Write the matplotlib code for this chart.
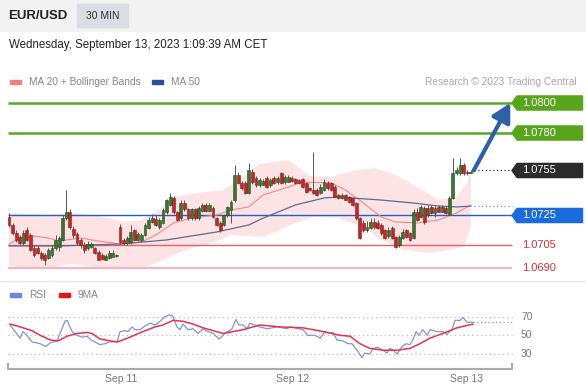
import matplotlib
matplotlib.use('Agg')
import matplotlib.pyplot as plt
from matplotlib.patches import Rectangle, Polygon
from matplotlib.lines import Line2D
import numpy as np

plt.rcParams['font.family'] = ['Liberation Sans', 'DejaVu Sans']

# ---- 30 min candles, EUR/USD ----
opens = [
    1.0724, 1.07187, 1.07133, 1.07107, 1.07067, 1.07153, 1.0712, 1.07033, 1.07033, 1.0700,
    1.06987, 1.06967, 1.06987, 1.07033, 1.0704, 1.07087, 1.07233, 1.07273, 1.0716, 1.07127,
    1.07087, 1.07053, 1.07033, 1.0704, 1.07033, 1.07007, 1.06987, 1.06953, 1.06967, 1.06973,
    1.0698, 1.07173, 1.07087, 1.07067, 1.07073, 1.07153, 1.07087, 1.07087, 1.0712, 1.07167,
    1.07207, 1.07227, 1.07173, 1.0720, 1.07273, 1.0732, 1.07367, 1.07273, 1.07233, 1.07333,
    1.0729, 1.07233, 1.0729, 1.0723, 1.0728, 1.0732, 1.0728, 1.0730, 1.07233, 1.0720,
    1.07187, 1.07253, 1.07287, 1.07353, 1.0752, 1.07467, 1.07467, 1.0740, 1.0754, 1.0750,
    1.07453, 1.07453, 1.0750, 1.07453, 1.0750, 1.07473, 1.07533, 1.07473, 1.07473, 1.0750,
    1.07493, 1.07487, 1.07493, 1.07467, 1.07433, 1.0742, 1.0742, 1.0740, 1.0742, 1.07467,
    1.07467, 1.0744, 1.07387, 1.07367, 1.07387, 1.07373, 1.07367, 1.07333, 1.07233, 1.0720,
    1.07153, 1.07167, 1.07207, 1.0720, 1.07187, 1.07153, 1.07113, 1.07167, 1.07107, 1.07053,
    1.0710, 1.07153, 1.07133, 1.0710, 1.07273, 1.0724, 1.0730, 1.07253, 1.07307, 1.07267,
    1.07307, 1.07273, 1.0730, 1.07253, 1.07367, 1.07533, 1.07533, 1.07587, 1.0754, 1.07533,
]
highs = [
    1.07267, 1.0720, 1.0715, 1.0712, 1.0715, 1.0717, 1.0713, 1.0705, 1.0705, 1.0701,
    1.0700, 1.0703, 1.0705, 1.0712, 1.0711, 1.0725, 1.0742, 1.0729, 1.0718, 1.0714,
    1.0710, 1.0707, 1.0708, 1.0707, 1.0704, 1.0702, 1.0700, 1.0699, 1.0702, 1.0702,
    1.0699, 1.0719, 1.0710, 1.0711, 1.07187, 1.0716, 1.0714, 1.0713, 1.0720, 1.0724,
    1.0726, 1.0725, 1.0723, 1.0730, 1.0736, 1.0740, 1.0738, 1.0728, 1.0735, 1.0735,
    1.0730, 1.0730, 1.0730, 1.0731, 1.0733, 1.0733, 1.0733, 1.0731, 1.0724, 1.0721,
    1.0726, 1.0731, 1.0735, 1.07587, 1.0754, 1.0748, 1.0748, 1.0760, 1.0756, 1.0751,
    1.0750, 1.0749, 1.0751, 1.0750, 1.0751, 1.0751, 1.0754, 1.0752, 1.0752, 1.0751,
    1.0750, 1.0749, 1.0750, 1.0747, 1.0744, 1.07673, 1.0743, 1.0746, 1.0749, 1.0748,
    1.0747, 1.0745, 1.0739, 1.0740, 1.0739, 1.0738, 1.0737, 1.0734, 1.0724, 1.0722,
    1.0721, 1.0723, 1.0723, 1.0722, 1.0720, 1.0716, 1.0717, 1.0718, 1.0711, 1.0712,
    1.0716, 1.0716, 1.0714, 1.0729, 1.0730, 1.0732, 1.0731, 1.0732, 1.0732, 1.0731,
    1.0732, 1.0732, 1.0731, 1.0738, 1.07633, 1.0757, 1.07633, 1.0760, 1.0755, 1.0755,
]
lows = [
    1.07173, 1.0712, 1.0707, 1.0705, 1.0705, 1.0708, 1.0701, 1.0697, 1.0699, 1.0695,
    1.0692, 1.0696, 1.0697, 1.0702, 1.0701, 1.0708, 1.0722, 1.0716, 1.0710, 1.0705,
    1.0703, 1.0700, 1.0702, 1.0703, 1.0699, 1.0695, 1.0695, 1.0695, 1.0696, 1.0697,
    1.0697, 1.0706, 1.0705, 1.0705, 1.0706, 1.0708, 1.0708, 1.0707, 1.0711, 1.0716,
    1.0720, 1.0718, 1.0716, 1.0719, 1.0726, 1.0731, 1.0726, 1.0721, 1.0722, 1.0728,
    1.0722, 1.0722, 1.0722, 1.0722, 1.0727, 1.0727, 1.0727, 1.0723, 1.0718, 1.0714,
    1.0718, 1.0724, 1.0720, 1.0734, 1.0746, 1.0742, 1.0739, 1.0739, 1.0746, 1.0744,
    1.0744, 1.0745, 1.0743, 1.0744, 1.0746, 1.0746, 1.0746, 1.0746, 1.0747, 1.0747,
    1.0746, 1.0746, 1.0743, 1.0740, 1.0741, 1.0739, 1.0738, 1.0739, 1.0741, 1.0742,
    1.0741, 1.0737, 1.0736, 1.0736, 1.0735, 1.0733, 1.0731, 1.0722, 1.0709, 1.0714,
    1.0714, 1.0716, 1.0716, 1.0716, 1.0712, 1.0709, 1.0710, 1.0709, 1.0703, 1.0704,
    1.0709, 1.0710, 1.0708, 1.0709, 1.0721, 1.0723, 1.0719, 1.0724, 1.0726, 1.0724,
    1.0727, 1.0727, 1.0726, 1.0725, 1.0736, 1.0752, 1.0752, 1.0752, 1.0752, 1.0753,
]
closes = [
    1.07187, 1.07133, 1.07087, 1.07067, 1.07133, 1.07087, 1.0702, 1.06987, 1.0700, 1.06967,
    1.06953, 1.0702, 1.07033, 1.07087, 1.0710, 1.07233, 1.07273, 1.07173, 1.0712, 1.07067,
    1.07053, 1.0702, 1.0706, 1.0706, 1.0700, 1.06953, 1.0696, 1.0698, 1.0700, 1.0700,
    1.06987, 1.07073, 1.07067, 1.0710, 1.0714, 1.07087, 1.07127, 1.0712, 1.07187, 1.0722,
    1.07233, 1.07187, 1.0722, 1.07287, 1.07353, 1.07373, 1.07273, 1.0722, 1.07333, 1.0729,
    1.07233, 1.0729, 1.0723, 1.0730, 1.0732, 1.0728, 1.0732, 1.0724, 1.07187, 1.07153,
    1.07253, 1.07307, 1.0734, 1.0752, 1.07467, 1.07433, 1.0740, 1.07553, 1.07473, 1.07453,
    1.07487, 1.0748, 1.0744, 1.07487, 1.07467, 1.0750, 1.07467, 1.07507, 1.07507, 1.0748,
    1.07467, 1.07467, 1.0744, 1.07407, 1.0742, 1.0740, 1.07387, 1.0744, 1.07473, 1.07433,
    1.0742, 1.07373, 1.07367, 1.07387, 1.07353, 1.0734, 1.0732, 1.07233, 1.0710, 1.07153,
    1.07173, 1.07207, 1.07173, 1.07167, 1.07133, 1.0710, 1.07153, 1.0710, 1.0704, 1.07107,
    1.0714, 1.07107, 1.07087, 1.07273, 1.0722, 1.07307, 1.07207, 1.0730, 1.07267, 1.0730,
    1.07273, 1.07307, 1.07267, 1.07367, 1.07533, 1.07553, 1.07587, 1.07533, 1.07533, 1.0754,
]

# indicators (sampled along the candle index)
ma20_idx = [0, 3, 7, 11, 14, 20, 25, 31, 37, 41, 46, 51, 58, 62, 67, 71, 78, 82, 90, 94,
            99, 104, 108, 114, 120, 125, 129]
ma20 = [1.0706, 1.0710, 1.07113, 1.0710, 1.0708, 1.0710, 1.0708, 1.0706, 1.07073, 1.0712,
        1.0720, 1.07233, 1.07253, 1.07287, 1.07307, 1.07387, 1.0744, 1.07473, 1.07467, 1.0742,
        1.07333, 1.0724, 1.07207, 1.0720, 1.0722, 1.07267, 1.0732]
ma50_idx = [0, 14, 31, 44, 58, 67, 71, 80, 88, 92, 104, 113, 120, 125, 129]
ma50 = [1.07047, 1.07047, 1.0706, 1.07087, 1.0714, 1.07187, 1.07233, 1.0732, 1.07367, 1.07373,
        1.07353, 1.07333, 1.07313, 1.07307, 1.07313]
bb_up_idx = [0, 6, 11, 17, 23, 28, 32, 37, 42, 46, 53, 60, 65, 70, 78, 84, 90, 97, 102, 108,
             114, 120, 125, 128, 129]
bb_up = [1.07267, 1.0726, 1.07253, 1.07267, 1.07253, 1.07233, 1.07207, 1.0722, 1.07287, 1.07373,
         1.0740, 1.0742, 1.0750, 1.07593, 1.0762, 1.07513, 1.07507, 1.07553, 1.07567, 1.0752,
         1.0744, 1.07353, 1.07373, 1.07467, 1.07553]
bb_lo_idx = [0, 6, 11, 17, 23, 28, 32, 37, 42, 46, 51, 56, 62, 71, 80, 85, 92, 99, 104, 110,
             118, 127, 129]
bb_lo = [1.06913, 1.0690, 1.0690, 1.06927, 1.06913, 1.0690, 1.0690, 1.0690, 1.0694, 1.06987,
         1.07033, 1.0706, 1.0712, 1.07107, 1.0720, 1.0724, 1.07233, 1.07173, 1.07087, 1.0702,
         1.0700, 1.0704, 1.07173]

# RSI panel
rsi_idx = [0.3, 1.7, 3.1, 3.9, 5.0, 6.4, 8.7, 10.3, 11.5, 13.4, 14.8, 15.6, 16.2, 17.6, 19.0,
           20.4, 21.8, 22.9, 24.0, 25.4, 26.8, 28.2, 30.2, 31.0, 32.4, 33.2, 34.4, 35.2, 36.6,
           38.0, 39.4, 40.8, 42.2, 43.6, 45.0, 45.8, 46.9, 47.8, 48.6, 50.0, 51.4, 52.8, 54.2,
           55.6, 57.0, 58.7, 60.3, 62.3, 63.4, 64.2, 65.4, 66.5, 67.3, 70.1, 72.1, 74.9, 77.7,
           78.5, 82.1, 83.5, 85.5, 86.9, 88.3, 89.7, 90.5, 91.6, 93.3, 94.7, 95.8, 97.2, 98.6,
           99.4, 100.8, 101.7, 103.1, 104.5, 105.6, 106.4, 107.3, 108.4, 109.8, 110.9, 112.0,
           112.8, 113.7, 114.5, 115.6, 116.8, 117.6, 119.6, 121.2, 122.3, 123.7, 124.6, 126.0,
           126.8, 127.9, 129.6]
rsi = [61, 54, 47, 54, 50, 43, 41, 38, 42, 44, 57, 65, 66, 54, 50,
       48, 49, 45, 43, 40, 41, 43, 43, 54, 55, 54, 59, 56, 56,
       60, 63, 61, 65, 70, 72, 70, 59, 56, 62, 56, 57, 52, 57,
       54, 52, 46, 52, 57, 67, 61, 61, 57, 63, 59, 57, 59, 57,
       59, 56, 50, 50, 47, 54, 52, 53, 45, 44, 41, 41, 34, 26,
       31, 30, 36, 37, 34, 31, 36, 34, 30, 38, 41, 40,
       45, 54, 50, 56, 50, 56, 54, 54, 51, 56, 66, 66,
       69, 64, 64]
ma9_idx = [0.3, 3.1, 6.4, 8.7, 11.5, 13.7, 16.2, 19.0, 21.8, 23.2, 25.4, 28.2, 30.4, 33.8,
           37.4, 40.8, 43.0, 45.8, 48.6, 51.4, 54.2, 57.0, 59.8, 62.6, 65.4, 68.2, 70.1, 75.7,
           82.1, 87.7, 92.5, 95.3, 98.0, 100.8, 104.5, 108.4, 112.0, 114.8, 117.6, 121.2,
           125.1, 129.6]
ma9 = [62, 59, 55, 50, 45, 44, 49, 52, 53, 52, 46, 44, 43, 48,
       54, 59, 61, 66, 65, 62, 58, 55, 52, 54, 56, 59, 61, 59,
       58, 54, 50, 49, 41, 36, 34, 34, 36, 41, 47, 52,
       58, 62]

levels_green = [1.0800, 1.0780]
level_pivot = 1.0725
level_last = 1.0755
levels_red = [1.0705, 1.0690]
day_ticks = [31.3, 79.3, 127.7]
day_labels = ['Sep 11', 'Sep 12', 'Sep 13']
rsi_levels = [70, 50, 30]

W, H = 586, 391
fig = plt.figure(figsize=(W / 100, H / 100), dpi=100)
fig.patch.set_facecolor('white')


def fx(p):
    return p / W


def fy(p):
    return 1 - p / H


# header
fig.patches.append(Rectangle((0, fy(31)), 1, 31 / H, transform=fig.transFigure,
                             color='#f2f2f2', zorder=0))
fig.patches.append(Rectangle((fx(77), fy(27)), 51 / W, 23 / H, transform=fig.transFigure,
                             color='#dcdde4', zorder=1))
fig.text(fx(8), fy(16), 'EUR/USD', fontsize=9.5, fontweight='bold', color='#222', va='center')
fig.text(fx(102.5), fy(16), '30 MIN', fontsize=7.5, color='#333', va='center', ha='center')
fig.text(fx(9), fy(45), 'Wednesday, September 13, 2023 1:09:39 AM CET', fontsize=8.3,
         color='#222', va='center')

# legend row
fig.patches.append(Rectangle((fx(10), fy(84)), 11 / W, 4 / H, transform=fig.transFigure,
                             color='#f08080'))
fig.text(fx(29), fy(82), 'MA 20 + Bollinger Bands', fontsize=7.3, color='#888', va='center')
fig.patches.append(Rectangle((fx(152), fy(84)), 11 / W, 4 / H, transform=fig.transFigure,
                             color='#2a4f96'))
fig.text(fx(171), fy(82), 'MA 50', fontsize=7.3, color='#888', va='center')
fig.text(fx(577), fy(82), 'Research \u00a9 2023 Trading Central', fontsize=7.3, color='#aaa',
         va='center', ha='right')

fig.add_artist(Line2D([0, 1], [fy(281), fy(281)], color='#e8e8e8', lw=1))

# ---- main price panel ----
ax = fig.add_axes([fx(8), fy(280), 578 / W, 188 / H])
ax.axis('off')
ax.set_xlim(-0.28, 161.17)
ax.set_ylim(1.0682, 1.080733)
x_end = 140.5

ax.fill(np.r_[bb_up_idx, bb_lo_idx[::-1]], np.r_[bb_up, bb_lo[::-1]],
        color='#fde3e3', lw=0, zorder=0)
ax.plot(ma20_idx, ma20, color='#f08a8a', lw=0.8, zorder=2)
ax.plot(ma50_idx, ma50, color='#5a6a9c', lw=0.9, zorder=2)

ax.hlines(levels_green, -0.28, x_end, color='#5ba52a', lw=1.8, zorder=1)
ax.hlines(level_pivot, -0.28, x_end, color='#1f5fcf', lw=1.0, zorder=1)
ax.hlines(levels_red[0], -0.28, x_end, color='#e8606e', lw=1.0, zorder=1)
ax.hlines(levels_red[1], -0.28, x_end, color='#f7b6c3', lw=1.6, zorder=1)

idx = np.arange(len(closes))
o = np.array(opens)
c = np.array(closes)
up = c >= o
ax.vlines(idx, lows, highs, color='#555', lw=0.7, zorder=3)
body = np.where(np.abs(c - o) < 0.00004, 0.00004, c - o)
ax.bar(idx[up], body[up], bottom=o[up], width=0.8, color='#3a7430',
       edgecolor='#254d1f', lw=0.4, zorder=4)
ax.bar(idx[~up], body[~up], bottom=o[~up], width=0.8, color='#c0282a',
       edgecolor='#801a1a', lw=0.4, zorder=4)

last_i = len(closes) - 1 + 0.8
ax.hlines(level_last, last_i, x_end, color='#333', lw=0.9, linestyles=(0, (1, 2)))
ax.hlines(ma50[-1], last_i, x_end, color='#8a94b4', lw=0.9, linestyles=(0, (1, 2)))

ax.annotate('', xy=(140.0, levels_green[0]), xytext=(last_i, level_last),
            arrowprops=dict(arrowstyle='-|>,head_length=0.55,head_width=0.3', lw=3,
                            color='#2f5fa7', shrinkA=0, shrinkB=0, mutation_scale=20),
            zorder=6)


def tag(price, color, text):
    h = 0.00047
    pts = [(x_end, price), (x_end + 1.4, price + h), (160.2, price + h),
           (160.2, price - h), (x_end + 1.4, price - h)]
    ax.add_patch(Polygon(pts, closed=True, color=color, clip_on=False, zorder=5))
    ax.text(143.2, price, text, color='white', fontsize=8, va='center', zorder=6)


for lv in levels_green:
    tag(lv, '#58a51c', f'{lv:.4f}')
tag(level_last, '#2b2b2b', f'{level_last:.4f}')
tag(level_pivot, '#1a6ae0', f'{level_pivot:.4f}')
for lv in levels_red:
    ax.text(143.2, lv, f'{lv:.4f}', color='#d9303a', fontsize=8, va='center')

# ---- RSI panel ----
fig.patches.append(Rectangle((fx(10), fy(297)), 11 / W, 4 / H, transform=fig.transFigure,
                             color='#6f86e0'))
fig.text(fx(29), fy(295), 'RSI', fontsize=7.3, color='#888', va='center')
fig.patches.append(Rectangle((fx(59), fy(297)), 11 / W, 4 / H, transform=fig.transFigure,
                             color='#ee1111'))
fig.text(fx(78), fy(295), '9MA', fontsize=7.3, color='#888', va='center')

rax = fig.add_axes([fx(8), fy(369), 578 / W, 69 / H])
rax.axis('off')
rax.set_xlim(-0.28, 161.17)
rax.set_ylim(13.9, 87.8)
rax.hlines(rsi_levels, -0.28, x_end, color='#bbbbbb', lw=0.9, linestyles=(0, (1, 2.5)))
for lv in rsi_levels:
    rax.text(143.0, lv, str(lv), fontsize=7.5, color='#777', va='center')
rax.plot(rsi_idx, rsi, color='#8094dc', lw=0.9)
rax.plot(ma9_idx, ma9, color='#e8334a', lw=1.1)
rax.hlines(rsi[-1], rsi_idx[-1], x_end, color='#999', lw=0.9, linestyles=(0, (1, 2)))

rax.plot([-0.28, -0.28, x_end, x_end], [19.5, 13.9, 13.9, 19.5], color='#aaa', lw=1.5,
         clip_on=False)
for t, lab in zip(day_ticks, day_labels):
    rax.text(t, 3.0, lab, fontsize=7.5, color='#777', ha='center', va='center', clip_on=False)

fig.savefig('out.png', dpi=100)
